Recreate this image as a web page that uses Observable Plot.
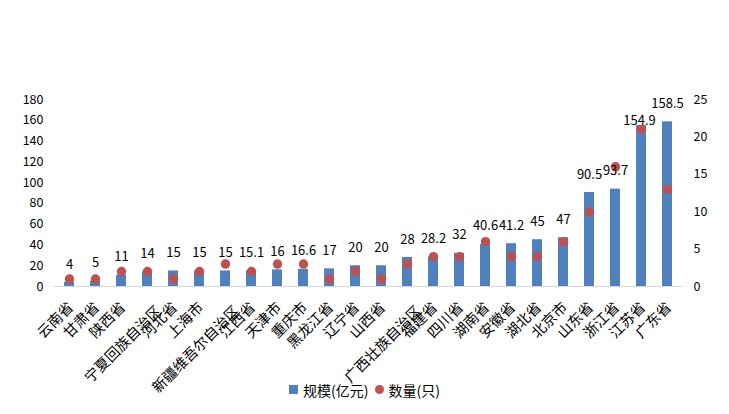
<!DOCTYPE html>
<html>
<head>
<meta charset="utf-8">
<script src="https://cdn.jsdelivr.net/npm/d3@7"></script>
<script src="https://cdn.jsdelivr.net/npm/@observablehq/plot@0.6"></script>
<style>
  body { margin: 0; background: #fff; font-family: "Noto Sans CJK SC", "Noto Sans", sans-serif; }
  #wrap { position: relative; width: 729px; height: 414px; }
  #chart svg { position: absolute; left: 0; top: 0; }
  #legend { position: absolute; left: 0; width: 729px; top: 378px; text-align: center; font-size: 14px; color: #000; }
  #legend span { display: inline-flex; align-items: center; margin: 0 3px; }
  .sq { width: 9px; height: 9px; background: #4f81bd; display: inline-block; margin-right: 5px; }
  .dot { width: 9px; height: 9px; border-radius: 50%; background: #c0504d; display: inline-block; margin-right: 5px; }
</style>
</head>
<body>
<div id="wrap">
  <div id="chart"></div>
  <div id="legend"><span><i class="sq"></i>规模(亿元)</span><span><i class="dot"></i>数量(只)</span></div>
</div>
<script>
const provinces = ["云南省","甘肃省","陕西省","宁夏回族自治区","河北省","上海市","新疆维吾尔自治区","江西省","天津市","重庆市","黑龙江省","辽宁省","山西省","广西壮族自治区","福建省","四川省","湖南省","安徽省","湖北省","北京市","山东省","浙江省","江苏省","广东省"];
const scale = [4,5,11,14,15,15,15,15.1,16,16.6,17,20,20,28,28.2,32,40.6,41.2,45,47,90.5,93.7,154.9,158.5];
const counts = [1,1,2,2,1,2,3,2,3,3,1,2,1,3,4,4,6,4,4,6,10,16,21,13];
const leftTicks = [0,20,40,60,80,100,120,140,160,180];
const rightTicks = [0,5,10,15,20,25];

const k = 180 / 25;
const data = provinces.map((p, i) => ({p, v: scale[i], c: counts[i]}));
// Excel nudges a crowded label (the one next to the tallest bar) down
const crowded = d => d.v === 154.9;
const longName = p => p.length > 5;

const xLabel = (filter, dx, dy) => Plot.text(provinces.filter(filter), {
  x: d => d, frameAnchor: "bottom", rotate: -45, textAnchor: "end", lineAnchor: "middle",
  dx, dy, fontSize: 14.5, fill: "#000"
});

const chart = Plot.plot({
  width: 729,
  height: 414,
  marginTop: 99,
  marginBottom: 128,
  marginLeft: 53,
  marginRight: 46,
  style: {fontFamily: "'Noto Sans CJK SC', sans-serif", fontSize: "12px", color: "#000", background: "transparent", overflow: "visible"},
  x: {domain: provinces, paddingInner: 0.6, paddingOuter: 0.3, label: null, axis: null},
  y: {domain: [0, 180], label: null},
  marks: [
    Plot.axisY({ticks: leftTicks, tickSize: 0, tickPadding: 10, fontSize: 12.5, label: null}),
    Plot.axisY({anchor: "right", ticks: rightTicks.map(t => t * k), tickFormat: d => String(Math.round(d / k)), tickSize: 0, tickPadding: 10, fontSize: 12.5, label: null}),
    xLabel(p => !longName(p), 1.5, 18.5),
    xLabel(p => longName(p), 11.5, 22),
    Plot.barY(data, {x: "p", y: "v", fill: "#4f81bd"}),
    Plot.ruleY([0], {stroke: "#d9d9d9"}),
    Plot.dot(data, {x: "p", y: d => d.c * k, r: 4.7, fill: "#c0504d", stroke: "none"}),
    Plot.text(data.filter(d => !crowded(d)), {x: "p", y: "v", text: d => String(d.v), dy: -18, fontSize: 13, fill: "#000"}),
    Plot.text(data.filter(crowded), {x: "p", y: "v", text: d => String(d.v), dy: -5, dx: -2, fontSize: 13, fill: "#000"})
  ]
});
document.getElementById("chart").appendChild(chart);
</script>
</body>
</html>
